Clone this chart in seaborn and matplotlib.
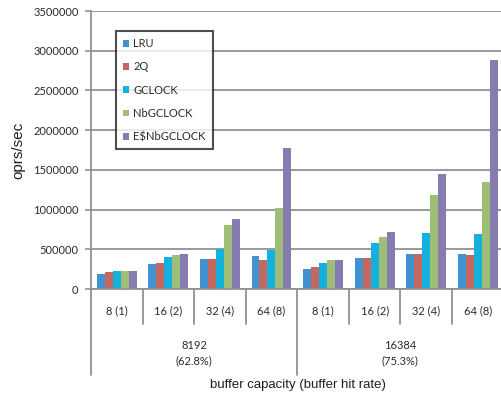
import matplotlib
matplotlib.use("Agg")
import matplotlib.pyplot as plt
import seaborn as sns
import pandas as pd

# Buffer sizes (outer groups) and their hit rates
capacities = ["8192\n(62.8%)", "16384\n(75.3%)"]
# Thread / partition configurations (inner groups)
configs = ["8 (1)", "16 (2)", "32 (4)", "64 (8)"]
policies = ["LRU", "2Q", "GCLOCK", "NbGCLOCK", "E$NbGCLOCK"]

# Throughput (operations per second), one list per policy, 8 configurations each
lru = [195000, 320000, 374000, 412000, 257000, 387000, 441000, 441000]
twoq = [212000, 332000, 374000, 370000, 273000, 387000, 441000, 433000]
gclock = [222000, 399000, 500000, 496000, 332000, 584000, 710000, 698000]
nbgclock = [222000, 424000, 811000, 1016000, 361000, 655000, 1180000, 1353000]
esnbgclock = [222000, 446000, 887000, 1776000, 361000, 723000, 1444000, 2889000]

colors = ["#4192D0", "#C4685F", "#14B0DE", "#9EBE78", "#877CB1"]

series = [lru, twoq, gclock, nbgclock, esnbgclock]
slots = [f"{c.split()[0]}|{k}" for c in capacities for k in configs]
rows = []
for name, vals in zip(policies, series):
    for slot, v in zip(slots, vals):
        rows.append({"slot": slot, "policy": name, "value": v})
df = pd.DataFrame(rows)

sns.set_theme(style="white")
plt.rcParams["font.family"] = ["Lato", "DejaVu Sans"]

W, H = 502, 396
fig = plt.figure(figsize=(W / 100, H / 100), dpi=100)
left, right, top, bottom = 91, 502, 11, 289
ax = fig.add_axes([left / W, 1 - bottom / H, (right - left) / W, (bottom - top) / H])

sns.barplot(data=df, x="slot", y="value", hue="policy", order=slots,
            hue_order=policies, palette=colors, width=0.775, linewidth=0,
            saturation=1, ax=ax, legend=True)

grid_c = "#8E9297"
text_c = "#2a2a2a"
ax.set_ylim(0, 3500000)
ax.set_yticks(range(0, 3500001, 500000))
ax.set_yticklabels([str(v) for v in range(0, 3500001, 500000)], fontsize=8, color=text_c)
ax.set_xlim(-0.5, 7.47)
ax.yaxis.grid(True, color=grid_c, linewidth=1.3)
ax.set_axisbelow(True)
ax.tick_params(axis="y", direction="out", length=4, width=1.2, color=grid_c, pad=5, left=True)
ax.tick_params(axis="x", length=0, pad=12)
ax.set_xticks(range(len(slots)))
ax.set_xticklabels(configs * 2, fontsize=8, color=text_c)
for s in ["top", "right"]:
    ax.spines[s].set_visible(False)
for s in ["left", "bottom"]:
    ax.spines[s].set_color(grid_c)
    ax.spines[s].set_linewidth(1.3)

ax.set_xlabel("")
ax.set_ylabel("")
fig.text(18 / W, 1 - 150 / H, "oprs/sec", rotation=90, ha="center", va="center",
         fontsize=11, family=["Liberation Sans"], color="#1e1e1e")
fig.text(298 / W, 1 - 385 / H, "buffer capacity (buffer hit rate)", ha="center",
         va="center", fontsize=9.5, family=["Liberation Sans"], color="#1e1e1e")

# Category separators below the axis
tr = ax.get_xaxis_transform()
ah = bottom - top
inner_y = -(324 - bottom) / ah
outer_y = -(375 - bottom) / ah
for i in range(9):
    x = i - 0.5
    y0 = outer_y if i in (0, 4, 8) else inner_y
    ax.plot([x, x], [0, y0], transform=tr, color=grid_c, linewidth=1.3, clip_on=False)

for g, cap in enumerate(capacities):
    ax.text(g * 4 + 1.5, -(353 - bottom) / ah, cap, transform=tr, ha="center",
            va="center", fontsize=8, color=text_c, linespacing=1.5)

leg = ax.legend(loc="upper left", bbox_to_anchor=((116 - left) / (right - left), (bottom - 31) / ah),
                fontsize=8, frameon=True, fancybox=False, edgecolor="#222222",
                handlelength=0.55, handleheight=0.55, handletextpad=0.35,
                labelspacing=1.1, borderpad=0.65, borderaxespad=0)
leg.get_frame().set_linewidth(1.5)
for t in leg.get_texts():
    t.set_color(text_c)

fig.savefig("out.png", dpi=100)
